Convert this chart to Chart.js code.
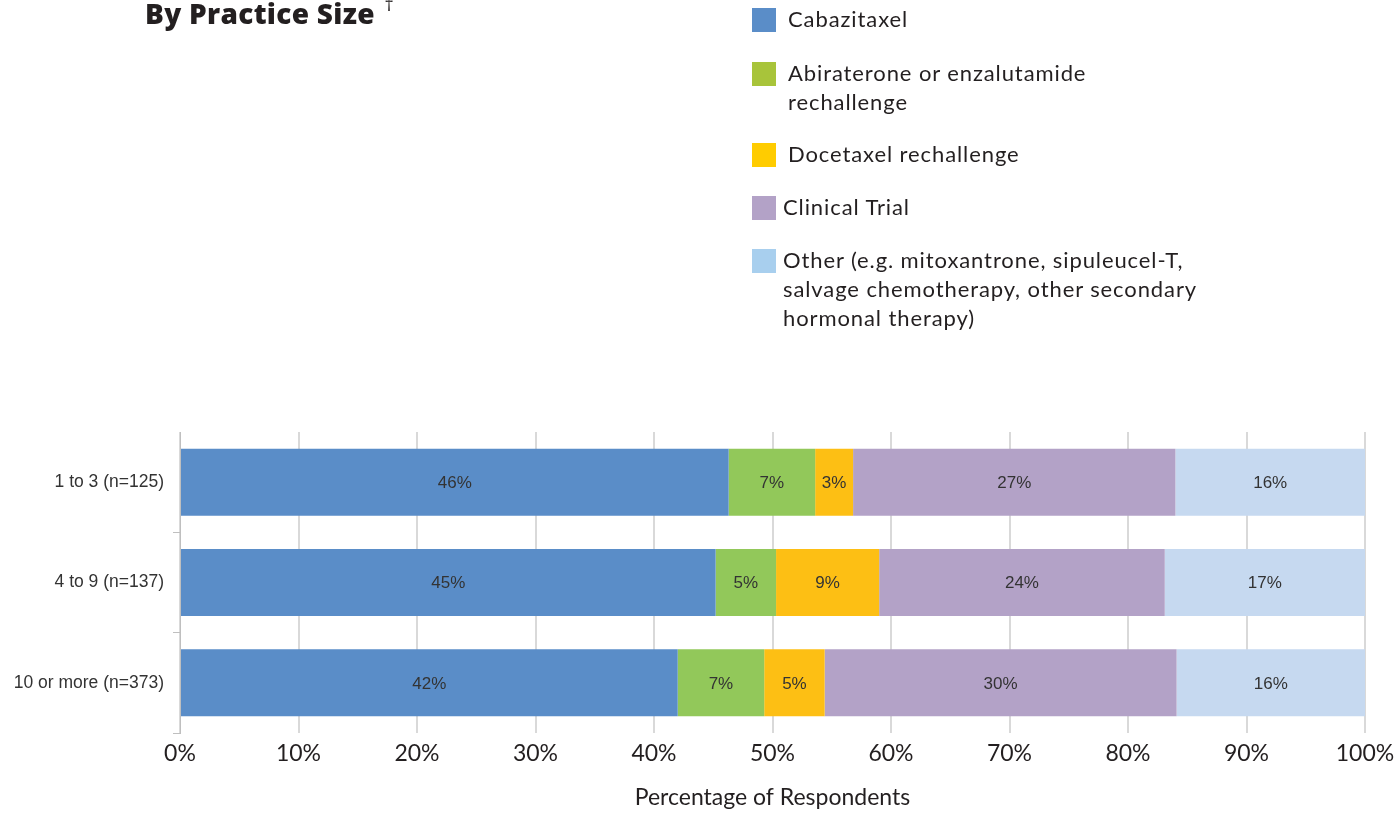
<!DOCTYPE html>
<html>
<head>
<meta charset="utf-8">
<script src="https://cdn.jsdelivr.net/npm/chart.js@4.4.1/dist/chart.umd.min.js"></script>
<style>
  html, body { margin: 0; padding: 0; background: #fff; }
  #wrap { position: relative; width: 1394px; height: 815px; overflow: hidden; }
  #myChart { position: absolute; left: 0; top: 0; }
  #title { position: absolute; left: 145px; top: -6px; font-family: "Open Sans", sans-serif; font-weight: 800; font-size: 28px; color: #231f20; letter-spacing: 0.3px; white-space: nowrap; }
  #title sup { font-size: 18px; font-weight: 400; position: relative; top: -3px; margin-left: 2px; }
  #legend { position: absolute; left: 752px; top: 0; font-family: "Lato", sans-serif; font-size: 22px; color: #231f20; line-height: 29px; letter-spacing: 0.9px; }
  .item { position: absolute; left: 0; white-space: nowrap; }
  .sw { position: absolute; left: 0; width: 24px; height: 24px; }
  .tx { position: absolute; left: 36px; }
</style>
</head>
<body>
<div id="wrap">
  <canvas id="myChart" width="1394" height="815"></canvas>
  <div id="title">By Practice Size <sup>†</sup></div>
  <div id="legend"></div>
</div>
<script>
var categories = ["1 to 3 (n=125)", "4 to 9 (n=137)", "10 or more (n=373)"];
var seriesNames = ["Cabazitaxel", "Abiraterone or enzalutamide rechallenge", "Docetaxel rechallenge", "Clinical Trial", "Other (e.g. mitoxantrone, sipuleucel-T, salvage chemotherapy, other secondary hormonal therapy)"];
var cabazitaxel = [46.3, 45.2, 42.0];
var abiraterone = [7.3, 5.1, 7.3];
var docetaxel = [3.2, 8.7, 5.1];
var clinicalTrial = [27.2, 24.1, 29.7];
var other = [16.0, 16.9, 15.9];
var barLabels = [
    ["46%", "45%", "42%"],
    ["7%", "5%", "7%"],
    ["3%", "9%", "5%"],
    ["27%", "24%", "30%"],
    ["16%", "17%", "16%"]
];
var barColors = ["#5a8dc8", "#92c85a", "#fdbf14", "#b3a2c7", "#c6d9f0"];
var swatchColors = ["#5a8dc8", "#a8c43a", "#ffcc00", "#b3a2c7", "#a8cfee"];

// legend (html, wraps like the original)
var legendRows = [
    { top: 8, lines: ["Cabazitaxel"], tx: 36 },
    { top: 62, lines: ["Abiraterone or enzalutamide", "rechallenge"], tx: 36 },
    { top: 143, lines: ["Docetaxel rechallenge"], tx: 36 },
    { top: 196, lines: ["Clinical Trial"], tx: 31 },
    { top: 249, lines: ["Other (e.g. mitoxantrone, sipuleucel-T,", "salvage chemotherapy, other secondary", "hormonal therapy)"], tx: 31 }
];
var legend = document.getElementById('legend');
legendRows.forEach(function (r, i) {
    var d = document.createElement('div');
    d.className = 'item';
    d.style.top = r.top + 'px';
    d.innerHTML = '<div class="sw" style="top:0px;background:' + swatchColors[i] + '"></div>' +
        '<div class="tx" style="left:' + r.tx + 'px;top:-4px">' + r.lines.join('<br>') + '</div>';
    legend.appendChild(d);
});

var labelPlugin = {
    id: 'segLabels',
    afterDatasetsDraw: function (chart) {
        var c = chart.ctx;
        c.save();
        c.font = '17px "Liberation Sans", Arial, sans-serif';
        c.fillStyle = '#333333';
        c.textAlign = 'center';
        c.textBaseline = 'middle';
        chart.data.datasets.forEach(function (ds, di) {
            chart.getDatasetMeta(di).data.forEach(function (bar, i) {
                var cx = (bar.x + bar.base) / 2;
                c.fillText(barLabels[di][i], cx, bar.y + 1);
            });
        });
        c.restore();
    }
};

var ctx = document.getElementById('myChart');

new Chart(ctx, {
    type: 'bar',
    data: {
        labels: categories,
        datasets: [
            { label: seriesNames[0], data: cabazitaxel, backgroundColor: barColors[0] },
            { label: seriesNames[1], data: abiraterone, backgroundColor: barColors[1] },
            { label: seriesNames[2], data: docetaxel, backgroundColor: barColors[2] },
            { label: seriesNames[3], data: clinicalTrial, backgroundColor: barColors[3] },
            { label: seriesNames[4], data: other, backgroundColor: barColors[4] }
        ]
    },
    options: {
        indexAxis: 'y',
        responsive: false,
        animation: false,
        devicePixelRatio: 1,
        datasets: {
            bar: { barPercentage: 0.668, categoryPercentage: 1, borderWidth: 0 }
        },
        layout: { padding: { left: 0, top: 432, right: 29, bottom: 0 } },
        plugins: {
            legend: { display: false },
            tooltip: { enabled: false }
        },
        scales: {
            x: {
                stacked: true,
                min: 0,
                max: 100,
                border: { display: false },
                grid: { color: '#d9d9d9', lineWidth: 2, tickLength: 0 },
                ticks: {
                    stepSize: 10,
                    padding: 7,
                    color: '#231f20',
                    font: { family: 'Lato, sans-serif', size: 23 },
                    callback: function (v) { return v + '%'; }
                },
                title: {
                    display: true,
                    text: 'Percentage of Respondents',
                    color: '#231f20',
                    font: { family: 'Lato, sans-serif', size: 23 }
                },
                afterFit: function (scale) {
                    scale.height = 82;
                    scale.paddingLeft = 0;
                    scale.paddingRight = 0;
                }
            },
            y: {
                stacked: true,
                border: { display: true, color: '#bfbfbf', width: 1 },
                grid: {
                    offset: true,
                    drawOnChartArea: false,
                    tickLength: 7,
                    color: function (c) { return c.index === 0 ? 'rgba(0,0,0,0)' : '#bfbfbf'; }
                },
                ticks: {
                    padding: 9,
                    color: '#333333',
                    font: { family: '"Liberation Sans", Arial, sans-serif', size: 17.5 }
                },
                afterFit: function (scale) { scale.width = 180; }
            }
        }
    },
    plugins: [labelPlugin]
});
</script>
</body>
</html>
